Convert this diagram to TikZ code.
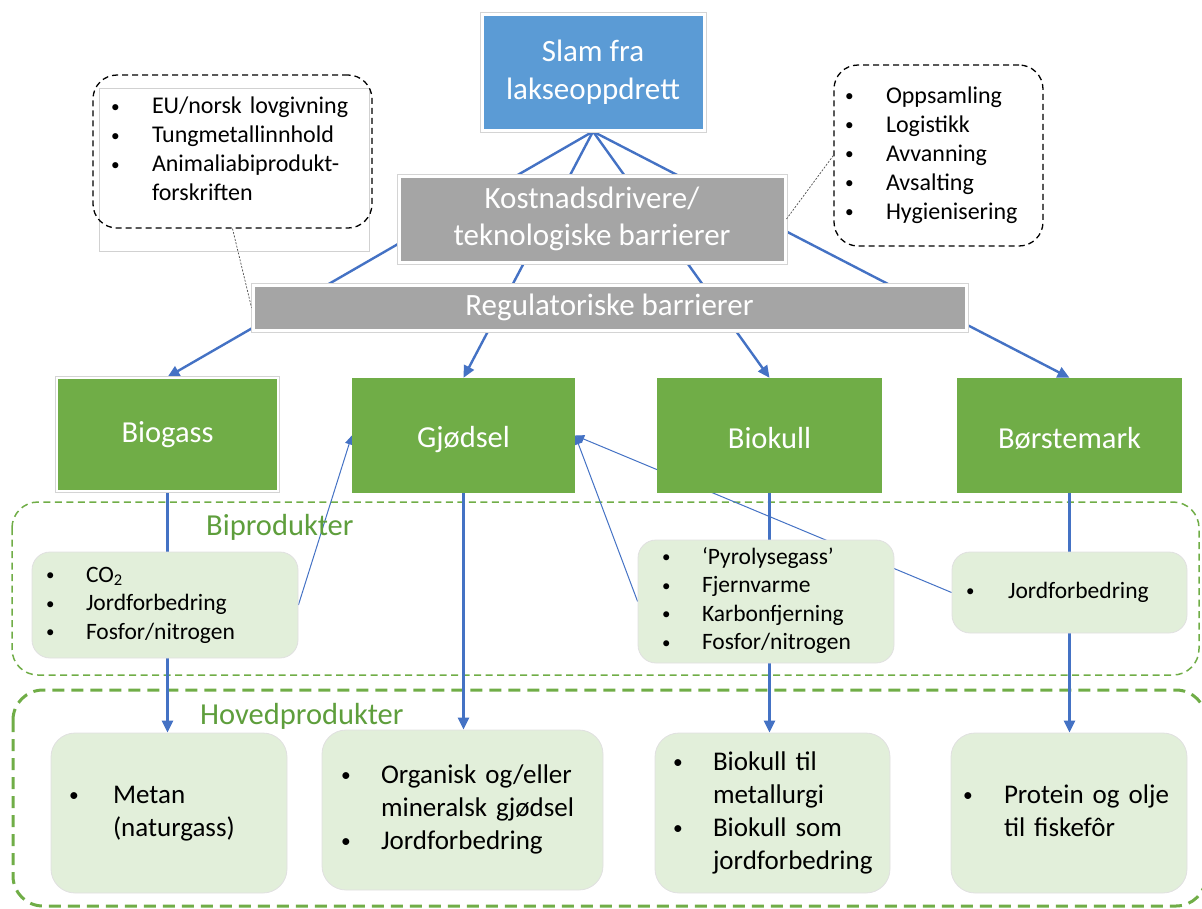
\documentclass[tikz,border=0pt]{standalone}
\usepackage{fontspec}
\usepackage{graphicx}
\setmainfont{Carlito}
\usetikzlibrary{arrows.meta}
\definecolor{slamblue}{HTML}{5B9BD5}
\definecolor{boxgray}{HTML}{A5A5A5}
\definecolor{boxgreen}{HTML}{70AD47}
\definecolor{lightgreen}{HTML}{E2EFDA}
\definecolor{lineblue}{HTML}{4472C4}
\definecolor{labgreen}{HTML}{5E9E3C}
\newcommand{\mybul}{\raisebox{0.07em}{\scalebox{0.72}{\textbullet}}}
\newcommand{\mylist}[2]{\begin{tabular}{@{}p{#1}@{}l@{}}#2\end{tabular}}
\newcommand{\lowered}[2]{\raisebox{-#1}[\height][\depth]{#2}}
\pgfdeclarelayer{bg}
\pgfsetlayers{bg,main}
\begin{document}
\begin{tikzpicture}[x=1pt,y=-1pt,
  pptbox/.style={preaction={draw=black!17,line width=5pt},draw=white,line width=3pt,text=white,inner sep=0pt,align=center,font=\fontsize{31}{37.5}\selectfont},
  greenbox/.style={fill=boxgreen,text=white,inner sep=0pt,minimum width=223pt,minimum height=115pt,font=\fontsize{30.5}{36}\selectfont},
  softbox/.style={fill=lightgreen,draw=black!12,line width=0.8pt,rounded corners=18pt,inner ysep=0pt,font=\fontsize{23.5}{28.5}\selectfont},
  mainbox/.style={fill=lightgreen,draw=black!12,line width=0.8pt,rounded corners=24pt,inner ysep=0pt,minimum height=160pt,font=\fontsize{27}{33}\selectfont},
  callout/.style={draw=black,line width=1.3pt,dash pattern=on 6pt off 4pt,rounded corners=24pt,inner ysep=0pt,font=\fontsize{24}{29}\selectfont},
  calloutlink/.style={draw=black!70,line width=0.7pt,dash pattern=on 2pt off 1.5pt},
  mainarrow/.style={draw=lineblue,line width=2.4pt,-{Triangle[length=12pt,width=11pt]}},
  thinarrow/.style={draw=lineblue,line width=1pt,-{Triangle[length=9pt,width=8pt]}},
  grouplabel/.style={text=labgreen,inner sep=0pt,font=\fontsize{30.5}{36}\selectfont},
  bifr/.style={draw=boxgreen,line width=1.5pt,dash pattern=on 7pt off 4.5pt,rounded corners=26pt},
  hofr/.style={draw=boxgreen,line width=3pt,dash pattern=on 12pt off 7pt,rounded corners=30pt}
]
\useasboundingbox (0,0) rectangle (1202,908);

% top boxes
\node[pptbox,fill=slamblue,minimum width=222pt,minimum height=116pt] (slam) at (593,72) {Slam fra\\lakseoppdrett};
\node[pptbox,fill=boxgray,minimum width=386pt,minimum height=86pt] (kost) at (592,219) {Kostnadsdrivere/\\teknologiske barrierer};
\node[pptbox,fill=boxgray,minimum width=713pt,minimum height=45pt] (reg) at (609.5,307.5) {Regulatoriske barrierer};

% callouts
\node[draw=black!18,fill=white,line width=0.8pt,minimum width=270pt,minimum height=163pt] (lframe) at (234,169.5) {};
\node[callout,minimum width=279pt,minimum height=153pt,text width=243pt,inner xsep=18pt] (lcall) at (232.5,151.5)
  {\mylist{41pt}{\mybul & EU/norsk lovgivning\\ \mybul & Tungmetallinnhold\\ \mybul & Animaliabiprodukt-\\ & forskriften}};
\node[callout,minimum width=209pt,minimum height=181pt,text width=187pt,inner xsep=11pt] (rcall) at (938.5,155.5)
  {\mylist{41pt}{\mybul & Oppsamling\\ \mybul & Logistikk\\ \mybul & Avvanning\\ \mybul & Avsalting\\ \mybul & Hygienisering}};

% green boxes
\node[greenbox,preaction={draw=black!17,line width=4pt},draw=white,line width=2pt,minimum width=221pt,minimum height=113pt] (biogass) at (167.5,434.5) {Biogass};
\node[greenbox] (gjodsel) at (463.5,435.5) {\lowered{4pt}{Gjødsel}};
\node[greenbox,minimum width=225pt] (biokull) at (769.5,435.5) {\lowered{3pt}{Biokull}};
\node[greenbox,minimum width=225pt] (borste) at (1069.5,435.5) {\lowered{3pt}{Børstemark}};

% by-products
\node[softbox,minimum width=266pt,minimum height=106pt,text width=238pt,inner xsep=14pt] (co2) at (165,605)
  {\mylist{40pt}{\mybul & CO\textsubscript{2}\\ \mybul & Jordforbedring\\ \mybul & Fosfor/nitrogen}};
\node[softbox,minimum width=256pt,minimum height=123pt,text width=208pt,inner xsep=24pt] (pyro) at (766,601.5)
  {\mylist{40pt}{\mybul & ‘Pyrolysegass’\\ \mybul & Fjernvarme\\ \mybul & Karbonfjerning\\ \mybul & Fosfor/nitrogen}};
\node[softbox,minimum width=235pt,minimum height=81pt,text width=207pt,inner xsep=14pt] (bjord) at (1069.5,592.5)
  {\mylist{42pt}{\mybul & Jordforbedring}};

% main products
\node[mainbox,minimum width=236pt,text width=200pt,inner xsep=18pt] (metan) at (169,813)
  {\mylist{44pt}{\mybul & Metan\\ & (naturgass)}};
\node[mainbox,minimum width=281pt,text width=243pt,inner xsep=19pt] (org) at (462.5,810)
  {\mylist{40pt}{\mybul & Organisk og/eller\\ & mineralsk gjødsel\\ \mybul & Jordforbedring}};
\node[mainbox,minimum width=235pt,text width=199pt,inner xsep=18pt] (biok2) at (772.5,813)
  {\mylist{40pt}{\mybul & Biokull til\\ & metallurgi\\ \mybul & Biokull som\\ & jordforbedring}};
\node[mainbox,minimum width=236pt,text width=212pt,inner xsep=12pt] (prot) at (1069,813)
  {\mylist{41pt}{\mybul & Protein og olje\\ & til fiskefôr}};

% group labels
\node[grouplabel,anchor=base west] (bilab) at (206,535) {Biprodukter};
\node[grouplabel,anchor=base west] (holab) at (200,724) {Hovedprodukter};

% callout links
\draw[calloutlink] (lcall.south) -- (reg.west);
\draw[calloutlink] (rcall.west) -- (kost.east);

\begin{pgfonlayer}{bg}
  \draw[bifr] (12,502) rectangle (1199,675);
  \draw[hofr] (13,690) rectangle (1206,906);
  \foreach \t in {biogass,gjodsel,biokull,borste}
    \draw[mainarrow] (slam.south) -- (\t.north);
  \draw[mainarrow] (biogass.south) -- (biogass.south |- metan.north);
  \draw[mainarrow] (gjodsel.south) -- (gjodsel.south |- org.north);
  \draw[mainarrow] (biokull.south) -- (biokull.south |- biok2.north);
  \draw[mainarrow] (borste.south) -- (borste.south |- prot.north);
  \draw[thinarrow] (co2.east) -- (gjodsel.west);
  \draw[thinarrow] (pyro.west) -- (gjodsel.east);
  \draw[thinarrow] (bjord.west) -- (gjodsel.east);
\end{pgfonlayer}
\end{tikzpicture}
\end{document}
